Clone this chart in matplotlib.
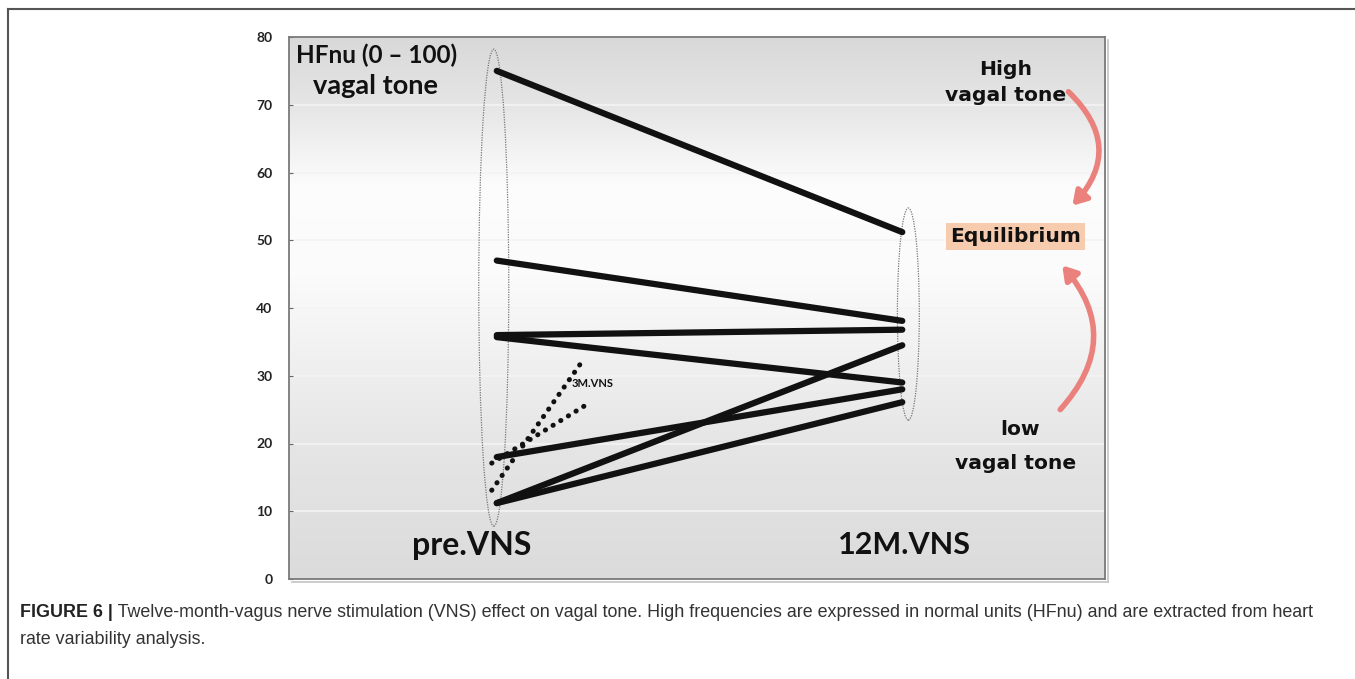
import numpy as np
import matplotlib
matplotlib.use('Agg')
import matplotlib.pyplot as plt
from matplotlib.patches import Ellipse, FancyArrowPatch
from matplotlib.lines import Line2D

# HFnu values per patient
pre_vns = [75, 47, 36, 35.7, 18, 11.2, 11.2]
m12_vns = [51.2, 38.1, 36.8, 29.0, 28.0, 34.5, 26.1]
# 3 month values (dotted)
pre_3m = [13.1, 17.1]
m3_vns = [32.5, 25.5]

x_pre, x_m12, x_m3 = 1.0, 3.0, 1.43
yticks = [0, 10, 20, 30, 40, 50, 60, 70, 80]

fig = plt.figure(figsize=(13.55, 6.79), dpi=100)
ax = fig.add_axes([289/1355, 1-579/679, 816/1355, 542/679])
ax.set_xlim(-0.025, 4.0)
ax.set_ylim(0, 80)

# gray gradient background
yy = np.linspace(0, 80, 200)
shade = np.interp(yy, [0, 20, 45, 58, 70, 80], [0.86, 0.90, 0.985, 0.99, 0.90, 0.85])
rgb = np.stack([shade]*3, axis=-1)[:, None, :].repeat(2, axis=1)[::-1]
ax.imshow(rgb, extent=[-0.025, 4.0, 0, 80], aspect='auto', zorder=0)
for t in yticks[1:-1]:
    ax.axhline(t, color='#f4f4f4', lw=1.2, zorder=1)

for a, b in zip(pre_vns, m12_vns):
    ax.plot([x_pre, x_m12], [a, b], color='#111111', lw=4.5,
            solid_capstyle='round', zorder=3)
for a, b in zip(pre_3m, m3_vns):
    ax.plot([x_pre - 0.025, x_m3], [a, b], color='#111111', lw=3.6,
            ls=(0, (0.05, 1.75)), dash_capstyle='round', zorder=3)

ax.add_patch(Ellipse((0.985, 43), 0.148, 70.4, fill=False, ls=(0, (1, 1)),
                     lw=0.9, ec='#777777', zorder=2))
ax.add_patch(Ellipse((3.03, 39.1), 0.108, 31.3, fill=False, ls=(0, (1, 1)),
                     lw=0.9, ec='#777777', zorder=2))

txt = dict(family='Lato', weight='bold', color='#111111')
ax.text(0.01, 76.2, 'HFnu (0 \u2013 100)', fontsize=17.5, va='baseline', **txt)
ax.text(0.094, 71.6, 'vagal tone', fontsize=19.5, va='baseline', **txt)
ax.text(1.37, 28.9, '3M.VNS', fontsize=8, va='center', **txt)
ax.text(0.877, 5.0, 'pre.VNS', fontsize=23, ha='center', va='center', **txt)
ax.text(3.01, 5.0, '12M.VNS', fontsize=22, ha='center', va='center', **txt)

rt = dict(family='DejaVu Sans', weight='bold', color='#111111', ha='center',
          va='center', fontsize=14.6)
ax.text(3.51, 75.2, 'High', **rt)
ax.text(3.51, 71.3, 'vagal tone', **rt)
ax.text(3.58, 22.0, 'low', **rt)
ax.text(3.56, 17.1, 'vagal tone', **rt)
ax.text(3.56, 50.6, 'Equilibrium',
        bbox=dict(boxstyle='square,pad=0.2', fc='#f7cbae', ec='none'), **rt)

arrow_c = '#ea817c'
ax.add_patch(FancyArrowPatch((3.81, 72.2), (3.83, 54.8), connectionstyle='arc3,rad=-0.5',
                             arrowstyle='-|>,head_length=8,head_width=5', lw=4,
                             color=arrow_c, zorder=4))
ax.add_patch(FancyArrowPatch((3.77, 24.7), (3.78, 46.6), connectionstyle='arc3,rad=0.45',
                             arrowstyle='-|>,head_length=8,head_width=5', lw=4,
                             color=arrow_c, zorder=4))

ax.set_xticks([])
ax.set_yticks(yticks)
ax.set_yticklabels([str(t) for t in yticks], fontsize=10, fontweight='bold',
                   family='Lato', color='#222222')
ax.tick_params(axis='y', direction='in', length=3, color='#666666', pad=12)
for s in ax.spines.values():
    s.set_color('#7a7a7a')
    s.set_linewidth(1.3)

# faint shadow along right and bottom of the plot box
fig.add_artist(Line2D([292/1355, 1108/1355], [1-582/679, 1-582/679], color='#c4c4c4', lw=1.2))
fig.add_artist(Line2D([1108/1355, 1108/1355], [1-582/679, 1-40/679], color='#c4c4c4', lw=1.2))

# outer frame of the figure panel
fig.add_artist(Line2D([8/1355, 1], [1-9/679, 1-9/679], color='#555555', lw=1.5))
fig.add_artist(Line2D([8/1355, 8/1355], [0, 1-9/679], color='#555555', lw=1.5))

cap = fig.text(20/1355, 1-617/679, 'FIGURE 6 |', fontsize=12.9, fontweight='bold',
               family='Liberation Sans', color='#222222', va='baseline')
ax.annotate(' Twelve-month-vagus nerve stimulation (VNS) effect on vagal tone. High frequencies '
            'are expressed in normal units (HFnu) and are extracted from heart',
            xy=(1, 0), xycoords=cap, va='bottom', fontsize=12.9, family='Liberation Sans',
            color='#333333', annotation_clip=False)
fig.text(20/1355, 1-644/679, 'rate variability analysis.', fontsize=12.9,
         family='Liberation Sans', color='#333333', va='baseline')

fig.savefig('out.png', dpi=100)
